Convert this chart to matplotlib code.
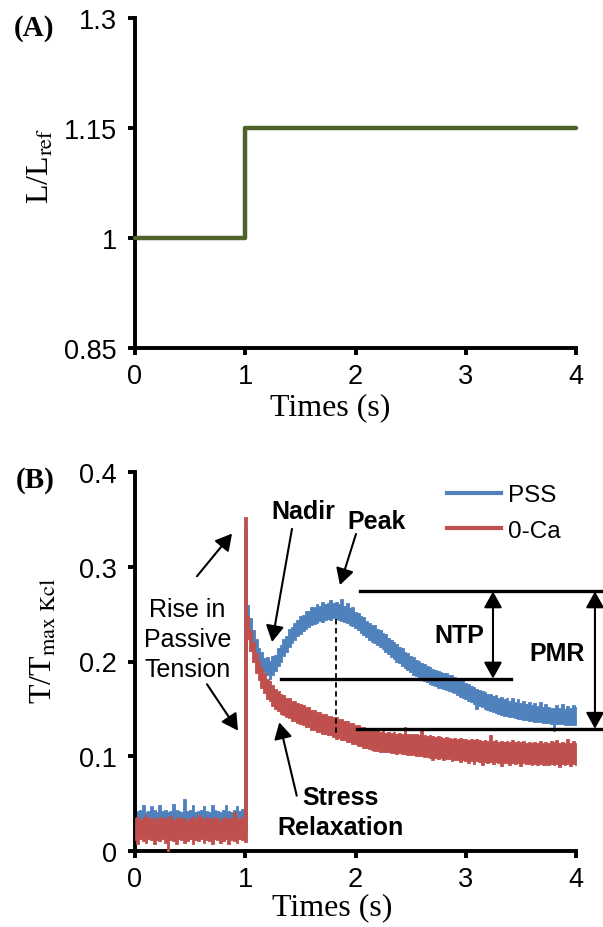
import numpy as np
import matplotlib
matplotlib.use('Agg')
import matplotlib.pyplot as plt
from matplotlib.lines import Line2D

plt.rcParams['font.family'] = ['Liberation Sans', 'DejaVu Sans']
plt.rcParams['mathtext.fontset'] = 'stix'

# ---------------- data ----------------
# Panel A: length step
len_time = [0, 1, 1, 4]
len_vals = [1.0, 1.0, 1.15, 1.15]

# Panel B: noisy tension traces, read as upper / lower edges of the
# plotted band, sampled every 0.025 s from 0 to 4 s (161 samples)
pss_upper = [
    0.049, 0.042, 0.043, 0.049, 0.041, 0.042, 0.048, 0.043, 0.041, 0.049,
    0.042, 0.043, 0.041, 0.042, 0.050, 0.043, 0.042, 0.041, 0.055, 0.042,
    0.043, 0.049, 0.041, 0.042, 0.043, 0.048, 0.042, 0.041, 0.049, 0.043,
    0.042, 0.041, 0.043, 0.049, 0.042, 0.041, 0.043, 0.048, 0.042, 0.044,
    0.340, 0.260, 0.246, 0.233, 0.224, 0.214, 0.210, 0.204, 0.205, 0.201,
    0.206, 0.207, 0.214, 0.217, 0.224, 0.227, 0.234, 0.236, 0.241, 0.244,
    0.248, 0.249, 0.253, 0.253, 0.258, 0.257, 0.261, 0.259, 0.263, 0.261,
    0.262, 0.265, 0.262, 0.263, 0.261, 0.266, 0.259, 0.262, 0.256, 0.257,
    0.252, 0.251, 0.248, 0.247, 0.243, 0.241, 0.238, 0.238, 0.234, 0.233,
    0.230, 0.229, 0.225, 0.223, 0.221, 0.218, 0.215, 0.214, 0.210, 0.209,
    0.206, 0.205, 0.202, 0.201, 0.198, 0.197, 0.195, 0.194, 0.192, 0.191,
    0.190, 0.189, 0.188, 0.188, 0.186, 0.186, 0.184, 0.183, 0.181, 0.180,
    0.177, 0.176, 0.174, 0.173, 0.171, 0.170, 0.169, 0.168, 0.166, 0.166,
    0.164, 0.165, 0.162, 0.163, 0.160, 0.162, 0.158, 0.161, 0.157, 0.160,
    0.156, 0.158, 0.155, 0.157, 0.154, 0.156, 0.153, 0.157, 0.152, 0.155,
    0.152, 0.151, 0.151, 0.154, 0.151, 0.155, 0.150, 0.153, 0.151, 0.154,
    0.152,
]
pss_lower = [
    0.031, 0.030, 0.032, 0.029, 0.031, 0.030, 0.032, 0.031, 0.029, 0.030,
    0.031, 0.032, 0.030, 0.029, 0.031, 0.030, 0.032, 0.031, 0.030, 0.029,
    0.031, 0.030, 0.032, 0.031, 0.030, 0.029, 0.031, 0.032, 0.030, 0.031,
    0.029, 0.030, 0.031, 0.032, 0.030, 0.031, 0.029, 0.030, 0.031, 0.025,
    0.023, 0.238, 0.226, 0.216, 0.206, 0.199, 0.193, 0.189, 0.186, 0.182,
    0.186, 0.190, 0.195, 0.200, 0.206, 0.210, 0.215, 0.219, 0.223, 0.227,
    0.229, 0.232, 0.234, 0.236, 0.238, 0.240, 0.241, 0.243, 0.242, 0.244,
    0.245, 0.244, 0.246, 0.245, 0.244, 0.243, 0.242, 0.241, 0.239, 0.237,
    0.235, 0.233, 0.230, 0.228, 0.226, 0.223, 0.221, 0.219, 0.217, 0.215,
    0.213, 0.210, 0.208, 0.205, 0.203, 0.200, 0.198, 0.195, 0.193, 0.191,
    0.189, 0.186, 0.185, 0.183, 0.181, 0.179, 0.178, 0.176, 0.175, 0.174,
    0.172, 0.172, 0.171, 0.170, 0.169, 0.168, 0.167, 0.165, 0.163, 0.162,
    0.160, 0.158, 0.157, 0.155, 0.150, 0.153, 0.152, 0.150, 0.149, 0.148,
    0.147, 0.146, 0.145, 0.144, 0.143, 0.142, 0.141, 0.141, 0.140, 0.139,
    0.139, 0.138, 0.138, 0.137, 0.137, 0.136, 0.136, 0.136, 0.135, 0.135,
    0.135, 0.134, 0.127, 0.134, 0.134, 0.134, 0.133, 0.133, 0.133, 0.133,
    0.133,
]
zero_ca_upper = [
    0.035, 0.036, 0.033, 0.035, 0.038, 0.035, 0.034, 0.036, 0.032, 0.035,
    0.036, 0.034, 0.035, 0.037, 0.033, 0.035, 0.036, 0.034, 0.035, 0.032,
    0.035, 0.036, 0.034, 0.038, 0.035, 0.033, 0.036, 0.035, 0.034, 0.036,
    0.035, 0.032, 0.035, 0.036, 0.034, 0.035, 0.041, 0.035, 0.034, 0.036,
    0.352, 0.248, 0.233, 0.221, 0.209, 0.201, 0.193, 0.188, 0.182, 0.179,
    0.175, 0.171, 0.169, 0.166, 0.165, 0.162, 0.161, 0.158, 0.158, 0.156,
    0.155, 0.154, 0.152, 0.152, 0.149, 0.149, 0.147, 0.147, 0.145, 0.145,
    0.143, 0.143, 0.141, 0.141, 0.139, 0.139, 0.137, 0.137, 0.135, 0.135,
    0.133, 0.133, 0.131, 0.131, 0.129, 0.128, 0.129, 0.127, 0.128, 0.126,
    0.127, 0.125, 0.126, 0.125, 0.126, 0.124, 0.125, 0.124, 0.131, 0.123,
    0.124, 0.123, 0.123, 0.122, 0.130, 0.122, 0.121, 0.122, 0.121, 0.120,
    0.121, 0.120, 0.119, 0.120, 0.119, 0.118, 0.119, 0.118, 0.119, 0.118,
    0.118, 0.117, 0.118, 0.117, 0.118, 0.117, 0.116, 0.117, 0.116, 0.122,
    0.116, 0.117, 0.115, 0.116, 0.115, 0.116, 0.115, 0.117, 0.115, 0.116,
    0.115, 0.116, 0.114, 0.115, 0.114, 0.115, 0.114, 0.116, 0.114, 0.115,
    0.114, 0.116, 0.115, 0.117, 0.114, 0.115, 0.114, 0.118, 0.114, 0.116,
    0.114,
]
zero_ca_lower = [
    0.012, 0.007, 0.013, 0.011, 0.008, 0.013, 0.012, 0.007, 0.012, 0.011,
    0.013, 0.008, 0.000, 0.012, 0.011, 0.007, 0.013, 0.012, 0.008, 0.011,
    0.013, 0.007, 0.012, 0.011, 0.013, 0.008, 0.012, 0.011, 0.007, 0.013,
    0.012, 0.008, 0.011, 0.013, 0.007, 0.012, 0.011, 0.008, 0.013, 0.012,
    0.010, 0.224, 0.211, 0.199, 0.188, 0.180, 0.172, 0.167, 0.160, 0.158,
    0.153, 0.150, 0.148, 0.145, 0.144, 0.141, 0.140, 0.137, 0.137, 0.135,
    0.134, 0.133, 0.131, 0.131, 0.128, 0.128, 0.126, 0.126, 0.124, 0.124,
    0.122, 0.122, 0.120, 0.118, 0.119, 0.117, 0.117, 0.115, 0.115, 0.113,
    0.113, 0.111, 0.111, 0.109, 0.109, 0.108, 0.107, 0.106, 0.106, 0.105,
    0.105, 0.104, 0.104, 0.103, 0.103, 0.102, 0.103, 0.102, 0.102, 0.101,
    0.101, 0.101, 0.100, 0.100, 0.100, 0.099, 0.099, 0.098, 0.096, 0.098,
    0.097, 0.098, 0.096, 0.097, 0.097, 0.095, 0.096, 0.096, 0.094, 0.096,
    0.095, 0.093, 0.095, 0.092, 0.095, 0.094, 0.091, 0.094, 0.093, 0.094,
    0.092, 0.094, 0.093, 0.090, 0.093, 0.093, 0.091, 0.093, 0.092, 0.093,
    0.090, 0.093, 0.092, 0.092, 0.091, 0.092, 0.091, 0.092, 0.091, 0.091,
    0.091, 0.092, 0.091, 0.092, 0.089, 0.092, 0.091, 0.092, 0.090, 0.092,
    0.091,
]
t_step = 0.025
for arr in (pss_upper, pss_lower, zero_ca_upper, zero_ca_lower):
    assert len(arr) == 161, len(arr)
times = np.round(np.arange(len(pss_upper)) * t_step, 3)

series_names = ['PSS', '0-Ca']
x_ticks = [0, 1, 2, 3, 4]
yA_ticks = [0.85, 1.0, 1.15, 1.3]
yA_labels = ['0.85', '1', '1.15', '1.3']
yB_ticks = [0, 0.1, 0.2, 0.3, 0.4]
yB_labels = ['0', '0.1', '0.2', '0.3', '0.4']

# annotation levels
peak_level = 0.274
nadir_level = 0.182
plateau_level = 0.129
peak_time = 1.82

# ---------------- figure ----------------
W, H = 603, 928
fig = plt.figure(figsize=(W / 100, H / 100), dpi=100)


def rect(l, t, r, b):
    return [l / W, 1 - b / H, (r - l) / W, (b - t) / H]


axA = fig.add_axes(rect(135, 19, 576, 349))
axB = fig.add_axes(rect(135, 473, 576, 852))

serif = ['Liberation Serif', 'DejaVu Serif']
for ax in (axA, axB):
    for s in ('top', 'right'):
        ax.spines[s].set_visible(False)
    for s in ('left', 'bottom'):
        ax.spines[s].set_linewidth(2.8)
    ax.tick_params(direction='out', length=5, width=2.8, labelsize=19.5,
                   colors='black')
    ax.tick_params(axis='y', pad=8)
    ax.tick_params(axis='x', pad=6)
    ax.set_xlim(0, 4)
    ax.set_xticks(x_ticks)
    ax.set_xticklabels([str(v) for v in x_ticks])

fig.text(330 / W, 1 - 408 / H, 'Times (s)', family=serif, fontsize=23,
         ha='center', va='center')
fig.text(332 / W, 1 - 908 / H, 'Times (s)', family=serif, fontsize=23,
         ha='center', va='center')

# Panel A
axA.plot(len_time, len_vals, color='#4F6228', lw=3.2, solid_capstyle='round',
         clip_on=False, zorder=3)
axA.set_ylim(0.85, 1.3)
axA.set_yticks(yA_ticks)
axA.set_yticklabels(yA_labels)
fig.text(41 / W, 1 - 166 / H, r'L/L$_{\mathrm{ref}}$', rotation=90,
         ha='center', va='center', fontsize=23, family=serif)
fig.text(34 / W, 1 - 29 / H, '(A)', fontsize=21, fontweight='bold',
         family=serif, ha='center', va='center')

# Panel B
blue = '#4F81BD'
red = '#C0504D'
axB.fill_between(times, pss_lower, pss_upper, step='mid', color=blue,
                 lw=0.6, edgecolor=blue, zorder=2)
axB.fill_between(times, zero_ca_lower, zero_ca_upper, step='mid', color=red,
                 lw=0.6, edgecolor=red, zorder=3)
axB.set_ylim(0, 0.4)
axB.set_yticks(yB_ticks)
axB.set_yticklabels(yB_labels)
fig.text(44 / W, 1 - 641 / H, r'T/T$_{\mathrm{max\ Kcl}}$', rotation=90,
         ha='center', va='center', fontsize=23, family=serif)
fig.text(35 / W, 1 - 480 / H, '(B)', fontsize=21, fontweight='bold',
         family=serif, ha='center', va='center')

handles = [Line2D([], [], color=blue, lw=3), Line2D([], [], color=red, lw=3)]
axB.legend(handles, series_names, loc='upper left', bbox_to_anchor=(0.68, 1.0),
           frameon=False, fontsize=17.5, borderpad=0, handlelength=2.2,
           handletextpad=0.3, labelspacing=0.55)

# reference lines
line_kw = dict(color='black', lw=2.4, clip_on=False, zorder=4)
axB.plot([2.04, 4.26], [peak_level, peak_level], **line_kw)
axB.plot([1.32, 3.41], [nadir_level, nadir_level], **line_kw)
axB.plot([2.01, 4.26], [plateau_level, plateau_level], **line_kw)
axB.plot([peak_time, peak_time], [0.245, 0.121], color='black', lw=1.3,
         ls=(0, (3, 2)), zorder=4)

head = '-|>,head_length=0.45,head_width=0.25'
arrow_kw = dict(arrowstyle=head, color='black', lw=1.5, mutation_scale=22,
                shrinkA=0, shrinkB=0)
dbl_kw = dict(arrowstyle='<|-|>,head_length=0.45,head_width=0.25',
              color='black', lw=1.5, mutation_scale=22, shrinkA=0, shrinkB=0)

axB.annotate('', xy=(3.247, nadir_level), xytext=(3.247, peak_level),
             arrowprops=dbl_kw, annotation_clip=False)
axB.annotate('', xy=(4.172, plateau_level), xytext=(4.172, peak_level),
             arrowprops=dbl_kw, annotation_clip=False)

bold = dict(fontsize=18, fontweight='bold', ha='center', va='center')
axB.text(2.939, 0.228, 'NTP', **bold)
axB.text(3.828, 0.209, 'PMR', **bold, clip_on=False)
axB.text(1.524, 0.359, 'Nadir', **bold)
axB.text(2.194, 0.348, 'Peak', **bold)
axB.text(1.868, 0.041, 'Stress\nRelaxation', linespacing=1.3, **bold)
axB.text(0.476, 0.2237, 'Rise in\nPassive\nTension', fontsize=18,
         ha='center', va='center', linespacing=1.3)

axB.annotate('', xy=(0.880, 0.335), xytext=(0.562, 0.290), arrowprops=arrow_kw)
axB.annotate('', xy=(0.934, 0.127), xytext=(0.653, 0.176), arrowprops=arrow_kw)
axB.annotate('', xy=(1.243, 0.2206), xytext=(1.424, 0.340), arrowprops=arrow_kw)
axB.annotate('', xy=(1.859, 0.2807), xytext=(2.0045, 0.3346), arrowprops=arrow_kw)
axB.annotate('', xy=(1.309, 0.1358), xytext=(1.467, 0.0584), arrowprops=arrow_kw)

fig.savefig('out.png', dpi=100)
